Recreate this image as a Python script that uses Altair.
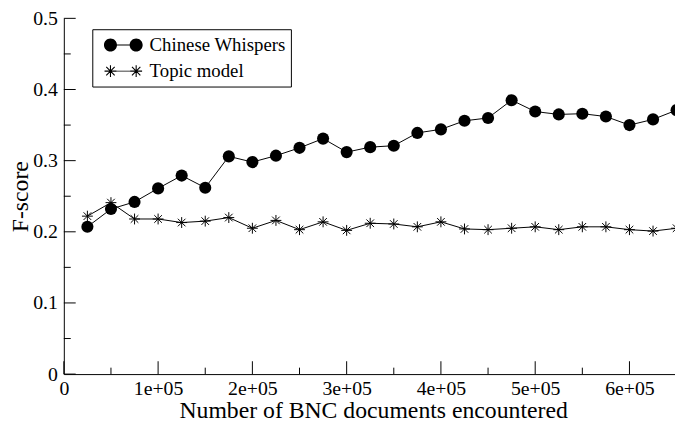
import math
import altair as alt
import pandas as pd

# ---- data ----
docs = [25000, 50000, 75000, 100000, 125000, 150000, 175000, 200000, 225000,
        250000, 275000, 300000, 325000, 350000, 375000, 400000, 425000, 450000,
        475000, 500000, 525000, 550000, 575000, 600000, 625000, 650000]
chinese_whispers = [0.207, 0.232, 0.242, 0.261, 0.279, 0.262, 0.306, 0.298, 0.307,
                    0.318, 0.331, 0.312, 0.319, 0.321, 0.339, 0.344, 0.356, 0.360,
                    0.385, 0.369, 0.365, 0.366, 0.362, 0.350, 0.358, 0.371]
topic_model = [0.222, 0.241, 0.218, 0.218, 0.213, 0.215, 0.220, 0.205, 0.216,
               0.203, 0.214, 0.202, 0.212, 0.211, 0.207, 0.214, 0.204, 0.203,
               0.205, 0.207, 0.203, 0.207, 0.207, 0.203, 0.201, 0.205]
series_names = ["Chinese Whispers", "Topic model"]

y_major = [0.0, 0.1, 0.2, 0.3, 0.4, 0.5]
y_minor = [0.05, 0.15, 0.25, 0.35, 0.45]
x_major = [0, 100000, 200000, 300000, 400000, 500000, 600000]
x_minor = [50000, 150000, 250000, 350000, 450000, 550000]

FONT = "Liberation Serif"

df = pd.DataFrame({
    "docs": docs * 2,
    "F": chinese_whispers + topic_model,
    "series": [series_names[0]] * len(docs) + [series_names[1]] * len(docs),
})

W, H = 618.5, 360
xscale = alt.Scale(domain=[0, 648300], nice=False, zero=False)
yscale = alt.Scale(domain=[0, 0.5], nice=False)

# symbol paths
star = "M0,-1L0,1M-1,0L1,0M-0.7,-0.7L0.7,0.7M-0.7,0.7L0.7,-0.7"

def f(v):
    return f"{v:.3f}"

def circ(cx, r):
    return f"M{f(cx-r)},0A{r},{r},0,1,1,{f(cx+r)},0A{r},{r},0,1,1,{f(cx-r)},0Z"

def bar(cx, cy, length, t, ang):
    # thin filled rectangle centred on (cx, cy), rotated by ang degrees
    a = math.radians(ang)
    ux, uy = math.cos(a), math.sin(a)
    vx, vy = -uy, ux
    hl, ht = length / 2, t / 2
    pts = [(cx + ux * hl + vx * ht, cy + uy * hl + vy * ht),
           (cx - ux * hl + vx * ht, cy - uy * hl + vy * ht),
           (cx - ux * hl - vx * ht, cy - uy * hl - vy * ht),
           (cx + ux * hl - vx * ht, cy + uy * hl - vy * ht)]
    return "M" + "L".join(f"{f(x)},{f(y)}" for x, y in pts) + "Z"

def starp(cx, s, t):
    return "".join(bar(cx, 0, 2 * s, t, ang) for ang in (0, 45, 90, 135))

c1, c2, rr, th = 0.24, 2.84, 0.66, 0.1
leg_cw = circ(c1, rr) + bar((c1 + c2) / 2, 0, c2 - c1, th, 0) + circ(c2, rr)
leg_tm = starp(c1, 0.6, 0.11) + bar((c1 + c2) / 2, 0, c2 - c1, th, 0) + starp(c2, 0.6, 0.11)

base = alt.Chart(df)

xenc = alt.X("docs:Q", scale=xscale,
             axis=alt.Axis(values=x_major, title="Number of BNC documents encountered",
                           labelExpr="datum.value == 0 ? '0' : (datum.value / 100000) + 'e+05'",
                           labelPadding=5, labelFlush=False, labelOverlap=False,
                           titleX=313, titleY=44, titleBaseline="alphabetic"))
yenc = alt.Y("F:Q", scale=yscale,
             axis=alt.Axis(values=y_major, title="F-score",
                           labelExpr="datum.value == 0 ? '0' : format(datum.value, '.1f')",
                           labelPadding=6.5, labelFlush=False, labelOverlap=False,
                           titleX=-37, titleY=180, titleAngle=-90,
                           titleBaseline="alphabetic"))

lines = base.mark_line(color="black", strokeWidth=1).encode(
    x=xenc, y=yenc, detail="series:N")

circles = base.transform_filter(alt.datum.series == series_names[0]).mark_circle(
    color="black", size=150, opacity=1).encode(x="docs:Q", y="F:Q")

stars = base.transform_filter(alt.datum.series == series_names[1]).mark_point(
    shape=star, size=121, filled=False, stroke="black", strokeWidth=1, opacity=1
).encode(x="docs:Q", y="F:Q")

legend_layer = base.transform_filter("false").mark_point(
    filled=True, color="black", opacity=1, size=400
).encode(
    shape=alt.Shape("series:N",
                    scale=alt.Scale(domain=series_names, range=[leg_cw, leg_tm]),
                    legend=alt.Legend(title=None, orient="none", legendX=28.8, legendY=11,
                                      direction="vertical", padding=5,
                                      strokeColor="black", fillColor="white",
                                      symbolSize=400, labelOffset=31, rowPadding=5.4,
                                      symbolFillColor="black", symbolOpacity=1,
                                      labelFont=FONT, labelFontSize=19,
                                      labelColor="black", labelLimit=400))
)

ymaj = alt.Chart(pd.DataFrame({"F": y_major})).mark_rule(color="black", strokeWidth=1).encode(
    y=alt.Y("F:Q", scale=yscale), x=alt.value(0), x2=alt.value(12))
ymin = alt.Chart(pd.DataFrame({"F": y_minor})).mark_rule(color="black", strokeWidth=1).encode(
    y=alt.Y("F:Q", scale=yscale), x=alt.value(0), x2=alt.value(7))
xmaj = alt.Chart(pd.DataFrame({"docs": x_major})).mark_rule(color="black", strokeWidth=1).encode(
    x=alt.X("docs:Q", scale=xscale), y=alt.value(H), y2=alt.value(H - 13))
xmin = alt.Chart(pd.DataFrame({"docs": x_minor})).mark_rule(color="black", strokeWidth=1).encode(
    x=alt.X("docs:Q", scale=xscale), y=alt.value(H), y2=alt.value(H - 6.5))

chart = alt.layer(lines, ymaj, ymin, xmaj, xmin, circles, stars, legend_layer).properties(
    width=W, height=H,
    autosize=alt.AutoSizeParams(type="none"),
    padding={"left": 56.5, "top": 8, "right": 0, "bottom": 46},
    background="white",
).configure_view(stroke=None).configure_axis(
    labelFont=FONT, labelFontSize=20, labelColor="black",
    titleFont=FONT, titleFontSize=24, titleFontWeight="normal", titleColor="black",
    domainColor="black", domainWidth=1, grid=False, ticks=False,
).configure_legend(cornerRadius=0, strokeWidth=1)

chart.save("out.html", embed_options={"renderer": "svg", "actions": False})
